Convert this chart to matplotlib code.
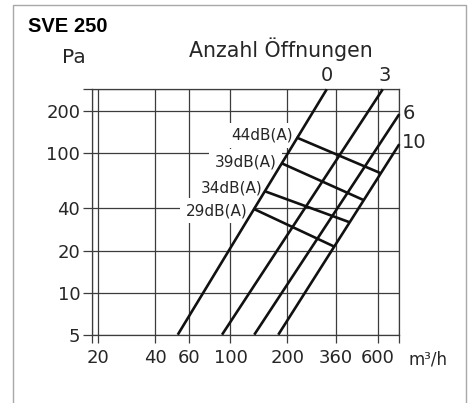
import matplotlib
matplotlib.use("Agg")
import matplotlib.pyplot as plt
from matplotlib.patches import Rectangle

# ---------------- data ----------------
flow_ticks = [20, 40, 60, 100, 200, 360, 600]
flow_tick_labels = ["20", "40", "60", "100", "200", "360", "600"]
pressure_ticks = [5, 10, 20, 40, 100, 200]
pressure_tick_labels = ["5", "10", "20", "40", "100", "200"]
flow_limits = [18.5, 782]
pressure_limits = [5, 285]

openings = ["0", "3", "6", "10"]
open_q_start = [52.6, 90.2, 133.6, 179.0]
open_p_start = [5, 5, 5, 5]
open_q_end = [323, 639, 782, 782]
open_p_end = [285, 285, 189.4, 115.4]

db_labels = ["44dB(A)", "39dB(A)", "34dB(A)", "29dB(A)"]
db_q_start = [223.5, 187.8, 152.2, 134.0]
db_p_start = [128.9, 83.9, 53.1, 39.5]
db_q_end = [618, 508.8, 423.5, 352.8]
db_p_end = [71.9, 45.8, 32.0, 21.4]

title = "SVE 250"
y_unit = "Pa"
x_unit = "m³/h"
legend_title = "Anzahl Öffnungen"

# ---------------- figure ----------------
W, H = 471, 403
fig = plt.figure(figsize=(W / 100, H / 100), dpi=100)
fig.patch.set_facecolor("white")

def fx(px):
    return px / W

def fy(py):
    return 1 - py / H

ax = fig.add_axes([fx(92), fy(334.7), fx(399.3) - fx(92), fy(89.3) - fy(334.7)])
ax.set_xscale("log")
ax.set_yscale("log")
ax.set_xlim(*flow_limits)
ax.set_ylim(*pressure_limits)

grid_col = "#3c3c3c"
text_col = "#262626"
FONT = "DejaVu Sans"

xt = [flow_limits[0]] + flow_ticks + [flow_limits[1]]
xl = [""] + flow_tick_labels + [""]
yt = pressure_ticks + [pressure_limits[1]]
yl = pressure_tick_labels + [""]
ax.set_xticks(xt)
ax.set_xticklabels(xl)
ax.set_yticks(yt)
ax.set_yticklabels(yl)
ax.minorticks_off()
ax.tick_params(axis="x", direction="out", length=5.5, width=0.9, color=grid_col,
               pad=5, labelsize=13, labelcolor=text_col)
ax.tick_params(axis="y", direction="out", length=6.5, width=0.9, color=grid_col,
               pad=2, labelsize=13, labelcolor=text_col)
for lab in ax.get_xticklabels() + ax.get_yticklabels():
    lab.set_fontfamily(FONT)
ax.set_axisbelow(True)
ax.grid(True, which="major", color=grid_col, linewidth=0.9)
for s in ax.spines.values():
    s.set_color(grid_col)
    s.set_linewidth(0.9)

# opening curves
for q0, p0, q1, p1 in zip(open_q_start, open_p_start, open_q_end, open_p_end):
    ax.plot([q0, q1], [p0, p1], color="#111111", lw=1.9, solid_capstyle="butt",
            zorder=3, clip_on=False)

# dB curves
for q0, p0, q1, p1 in zip(db_q_start, db_p_start, db_q_end, db_p_end):
    ax.plot([q0, q1], [p0, p1], color="#111111", lw=1.9, solid_capstyle="butt",
            zorder=3, clip_on=False)

# dB labels (white boxes hide the grid behind them)
db_pos = [(292.7, 140.0), (276.7, 166.7), (262.7, 192.3), (247.3, 215.0)]
for lab, (px, py) in zip(db_labels, db_pos):
    ax.text(fx(px), fy(py), lab, transform=fig.transFigure, ha="right", va="baseline",
            fontsize=11, color=text_col, family=FONT, zorder=2.5, clip_on=False,
            bbox=dict(boxstyle="square,pad=0.35", fc="white", ec="none"))

# opening labels
open_pos = [(327, 80.7, "center"), (385, 80.7, "center"), (402.7, 119.3, "left"), (401.7, 148.3, "left")]
for lab, (px, py, ha) in zip(openings, open_pos):
    fig.text(fx(px), fy(py), lab, ha=ha, va="baseline", fontsize=14, color=text_col, family=FONT)

fig.text(fx(280.5), fy(57.3), legend_title, ha="center", va="baseline", fontsize=14.8,
         color=text_col, family=FONT)
fig.text(fx(73.5), fy(62.7), y_unit, ha="center", va="baseline", fontsize=14.5,
         color=text_col, family=FONT)
fig.text(fx(408), fy(365), x_unit, ha="left", va="baseline", fontsize=12,
         color=text_col, family=FONT)
fig.text(fx(28), fy(31.5), title, ha="left", va="baseline", fontsize=14.5,
         fontweight="bold", color="black", family=["Liberation Sans", "DejaVu Sans"])

# outer frame
fig.add_artist(Rectangle((fx(13.3), fy(410)), fx(466) - fx(13.3), fy(5) - fy(410),
                         transform=fig.transFigure, fill=False, ec="#a8a8a8", lw=1.0))

fig.savefig("out.png", dpi=100)
